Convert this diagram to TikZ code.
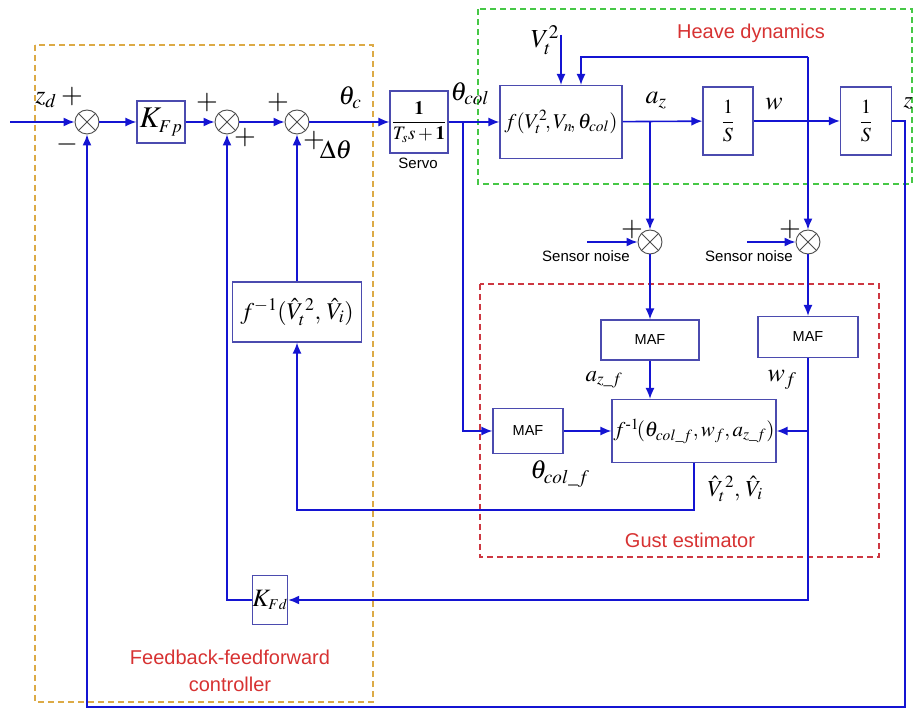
\documentclass[tikz,border=0pt]{standalone}
\usepackage{amsmath}
\usepackage{mathptmx}
\usepackage{fontspec}
\setmainfont{Liberation Serif}
\setsansfont{Liberation Sans}
\usetikzlibrary{arrows.meta,calc}
\definecolor{sigc}{RGB}{20,20,210}
\definecolor{boxc}{RGB}{75,75,175}
\definecolor{grn}{RGB}{70,200,70}
\definecolor{redd}{RGB}{205,55,65}
\definecolor{orng}{RGB}{220,170,70}
\definecolor{redt}{RGB}{215,50,50}
\begin{document}
\begin{tikzpicture}[x=1pt,y=-1pt,
  blk/.style={draw=boxc,line width=1.1pt,fill=white,inner sep=0pt},
  sumj/.style={circle,draw=gray!60!black,line width=0.9pt,minimum size=24pt,inner sep=0pt,fill=white},
  sig/.style={draw=sigc,line width=1.6pt},
  arr/.style={sig,-{Latex[length=11pt,width=9pt]}},
  grp/.style={line width=1.3pt,dash pattern=on 6pt off 4pt},
  ml/.style={inner sep=0pt,font=\fontsize{26}{28}\selectfont},
  mls/.style={inner sep=0pt,font=\fontsize{23}{25}\selectfont},
  sl/.style={inner sep=0pt,font=\sffamily\fontsize{15}{17}\selectfont},
  mafl/.style={font=\sffamily\fontsize{14.5}{16}\selectfont},
  gl/.style={inner sep=0pt,font=\sffamily\fontsize{20}{27}\selectfont,text=redt,align=center},
  pm/.style={inner sep=0pt,font=\fontsize{28}{30}\selectfont}]
\useasboundingbox (0,0) rectangle (914,711);
% group boxes
\draw[grp,draw=orng] (35,45) rectangle (373,702);
\draw[grp,draw=grn] (478,9) rectangle (912,184);
\draw[grp,draw=redd] (480,284) rectangle (879,557);
\node[gl] (lheave) at (751,33) {Heave dynamics};
\node[gl] (lgust) at (690,540) {Gust estimator};
\node[gl] (lctrl) at (230,671) {Feedback-feedforward\\controller};
% junctions
\node[sumj] (s1) at (87,122) {};
\node[sumj] (s2) at (227,122) {};
\node[sumj] (s3) at (297,122) {};
\node[sumj] (s4) at (650,242) {};
\node[sumj] (s5) at (808,242) {};
\foreach \s in {s1,s2,s3,s4,s5}
  \draw[gray!60!black,line width=0.9pt] (\s.north west)--(\s.south east) (\s.north east)--(\s.south west);
% blocks
\node[blk,minimum width=48pt,minimum height=42pt] (kfp) at (161,122) {\fontsize{30}{32}\selectfont$K_{\scriptscriptstyle Fp}$};
\node[blk,minimum width=58pt,minimum height=62pt] (servo) at (419,122) {\fontsize{19}{21}\selectfont$\dfrac{\mathbf{1}}{T_s s+\mathbf{1}}$};
\node[blk,minimum width=122pt,minimum height=73pt] (heave) at (561,122) {\fontsize{21}{23}\selectfont$f(V_t^2\!,V_n\!,\theta_{col})$};
\node[blk,minimum width=50pt,minimum height=68pt] (int1) at (728,121) {\fontsize{20}{22}\selectfont$\dfrac{1}{S}$};
\node[blk,minimum width=51pt,minimum height=68pt] (int2) at (866,121) {\fontsize{20}{22}\selectfont$\dfrac{1}{S}$};
\node[blk,minimum width=98pt,minimum height=40pt,mafl] (maf1) at (650,340) {MAF};
\node[blk,minimum width=100pt,minimum height=41pt,mafl] (maf2) at (808,337) {MAF};
\node[blk,minimum width=70pt,minimum height=45pt,mafl] (maf3) at (528,431) {MAF};
\node[blk,minimum width=164pt,minimum height=63pt] (finv) at (694,431) {\fontsize{21}{23}\selectfont$f^{\text{-}1}\!(\theta_{col\_f},w_f,a_{z\_f})$};
\node[blk,minimum width=129pt,minimum height=60pt] (finvv) at (297,312) {\fontsize{24}{26}\selectfont$f^{-1}(\hat{V}_t^{\,2},\,\hat{V}_i)$};
\node[blk,minimum width=33pt,minimum height=49pt] (kfd) at (270,600) {\fontsize{25}{27}\selectfont$K_{\scriptscriptstyle Fd}$};
% labels
\node[ml] (lzd) at (46,100) {$z_d$};
\node[pm] (p1) at (72,97) {$+$};
\node[pm] (m1) at (67,145) {$-$};
\node[pm] (p2) at (207,103) {$+$};
\node[pm] (p3) at (245,138) {$+$};
\node[pm] (p4) at (278,103) {$+$};
\node[pm] (p5) at (314,141) {$+$};
\node[ml] (ldth) at (336,150) {$\Delta\theta$};
\node[ml] (lthc) at (350,98) {$\theta_c$};
\node[ml] (lthcol) at (470,94) {$\theta_{col}$};
\node[sl] (lservo) at (418,163) {Servo};
\node[ml] (lvt) at (545,40) {$V_t^2$};
\node[ml] (laz) at (656,101) {$a_z$};
\node[ml] (lw) at (774,104) {$w$};
\node[mls] (lz) at (908,103) {$z$};
\node[pm] (p6) at (632,230) {$+$};
\node[pm] (p7) at (790,230) {$+$};
\node[sl] (lsn1) at (586,256) {Sensor noise};
\node[sl] (lsn2) at (749,256) {Sensor noise};
\node[mls] (lazf) at (604,380) {$a_{z\_f}$};
\node[ml] (lwf) at (782,380) {$w_f$};
\node[ml] (lthf) at (560,474) {$\theta_{col\_f}$};
\node[mls] (lvh) at (735,489) {$\hat{V}_t^{\,2},\,\hat{V}_i$};
% coordinates
\coordinate (in) at (10,122);
\coordinate (zr) at (905,121);
\coordinate (zb) at (905,707);
\coordinate (s1b) at (87,707);
\coordinate (vin) at (561,35);
\coordinate (wtop) at (808,57);
\coordinate (ftop) at (581,57);
\coordinate (aztap) at (650,122);
\coordinate (n1) at (587,242);
\coordinate (n2) at (747,242);
\coordinate (wfb) at (808,431);
\coordinate (kfdr) at (808,600);
\coordinate (kfdl) at (227,600);
\coordinate (thtap) at (463,122);
\coordinate (thb) at (463,431);
\coordinate (fob) at (694,510);
\coordinate (fol) at (297,510);
% connectors
\draw[arr] (in) -- (s1.west);
\draw[arr] (s1) -- (kfp);
\draw[arr] (kfp) -- (s2);
\draw[arr] (s2) -- (s3);
\draw[arr] (s3) -- (servo);
\draw[arr] (servo) -- (heave);
\draw[arr] (heave) -- (int1);
\draw[arr] (int1) -- (int2);
\draw[arr] (int2.east) -- (zr) -- (zb) -- (s1b) -- (s1.south);
\draw[arr] (vin) -- (vin |- heave.north);
\draw[arr] (wtop) -- (ftop) -- (ftop |- heave.north);
\draw[arr] (wtop) -- (s5.north);
\draw[arr] (aztap) -- (s4.north);
\draw[arr] (n1) -- (s4.west);
\draw[arr] (n2) -- (s5.west);
\draw[arr] (s4) -- (maf1);
\draw[arr] (s5) -- (maf2);
\draw[arr] (maf1.south) -- (maf1.south |- finv.north);
\draw[arr] (maf2.south) -- (wfb) -- (finv.east);
\draw[arr] (wfb) -- (kfdr) -- (kfd.east);
\draw[arr] (kfd.west) -- (kfdl) -- (s2.south);
\draw[arr] (thtap) -- (thb) -- (maf3.west);
\draw[arr] (maf3) -- (finv);
\draw[arr] (finv.south) -- (fob) -- (fol) -- (finvv.south);
\draw[arr] (finvv.north) -- (s3.south);
\end{tikzpicture}
\end{document}
